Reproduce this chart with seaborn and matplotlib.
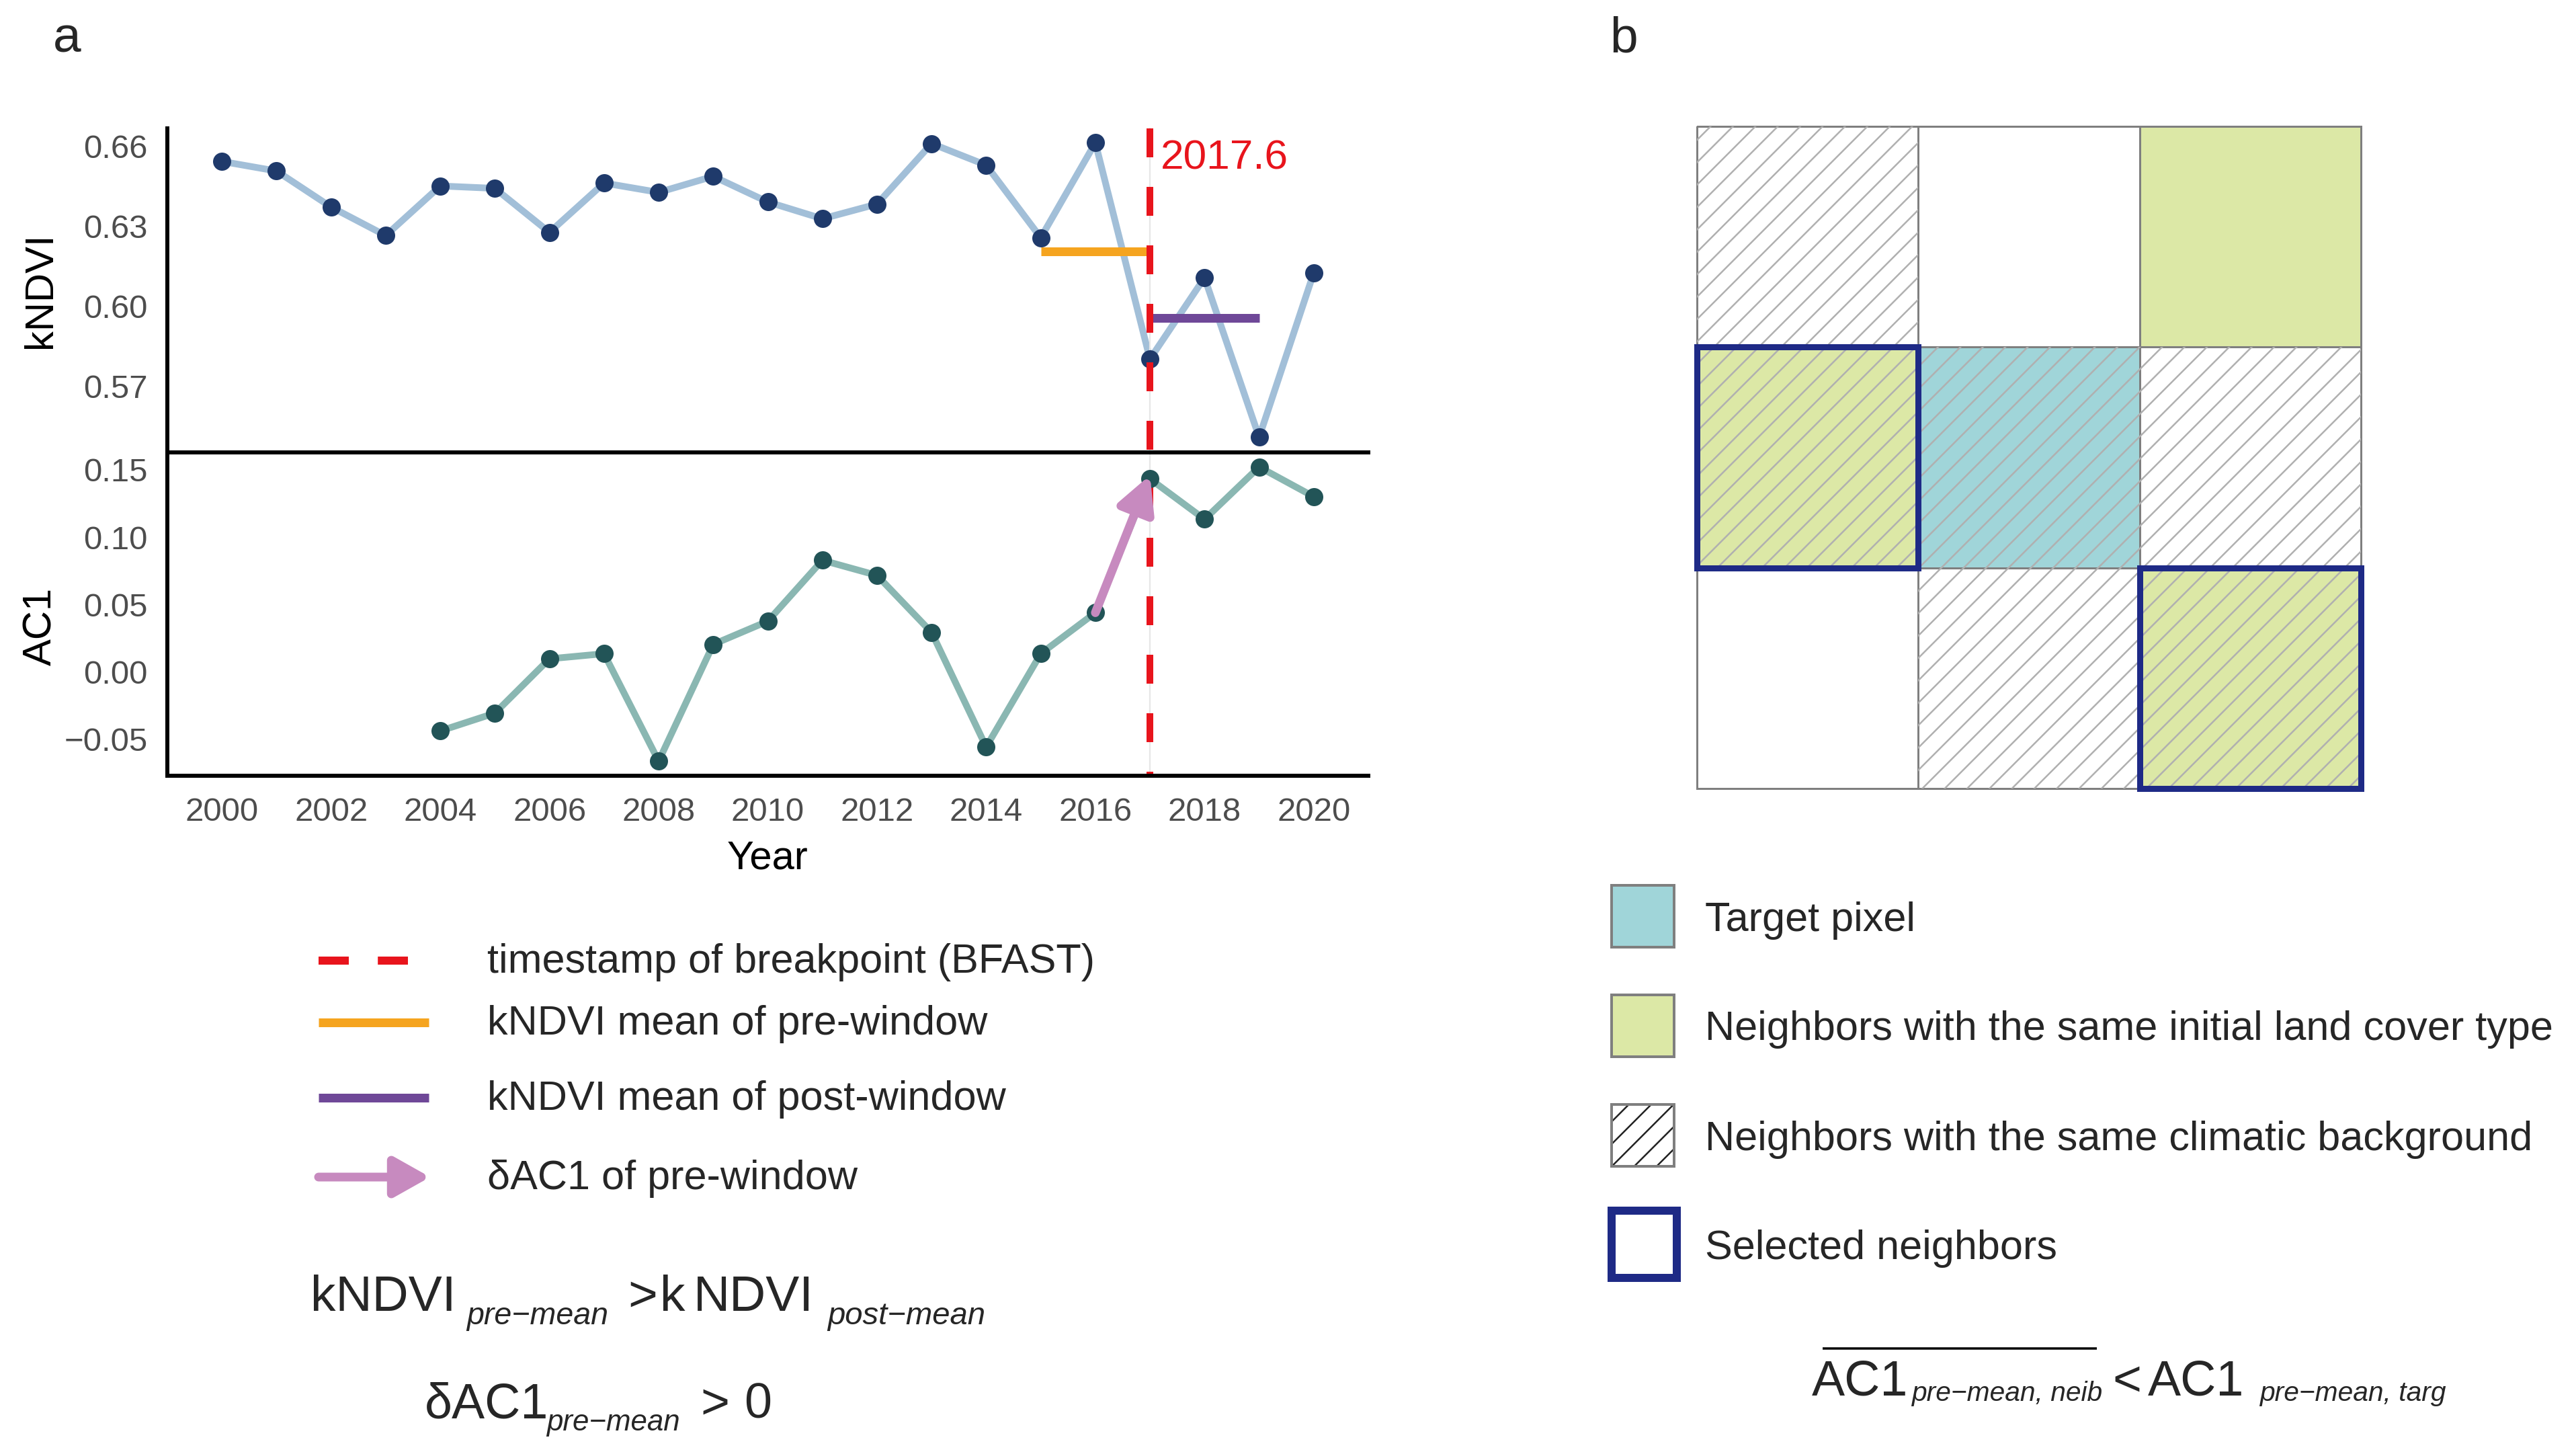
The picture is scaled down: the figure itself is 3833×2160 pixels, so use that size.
import numpy as np
import matplotlib
matplotlib.use("Agg")
import matplotlib.pyplot as plt
from matplotlib.colors import ListedColormap
from matplotlib.patches import Rectangle
import seaborn as sns
import pandas as pd

# ---- data ----
YEARS = list(range(2000, 2021))
KNDVI = [0.6544, 0.6508, 0.6373, 0.6266, 0.6452, 0.6443, 0.6278, 0.6463,
         0.6428, 0.6488, 0.6392, 0.6329, 0.6384, 0.6611, 0.6530, 0.6258,
         0.6614, 0.5803, 0.6108, 0.5510, 0.6126]
AC1_YEARS = list(range(2004, 2021))
AC1 = [-0.0437, -0.0305, 0.0098, 0.0136, -0.0661, 0.0205, 0.0377, 0.0829,
       0.0717, 0.0294, -0.0556, 0.0136, 0.0440, 0.1433, 0.1133, 0.1521, 0.1301]
BREAK_YEAR = 2017
BREAK_LABEL = "2017.6"
PRE_WINDOW = [2015, 2017]
PRE_MEAN = [0.6207, 0.6207]
POST_WINDOW = [2017, 2019]
POST_MEAN = [0.5956, 0.5956]
DELTA_X = [2016, 2017]
DELTA_Y = [0.0440, 0.146]

KNDVI_TICKS = [0.57, 0.60, 0.63, 0.66]
AC1_TICKS = [-0.05, 0.00, 0.05, 0.10, 0.15]
YEAR_TICKS = list(range(2000, 2021, 2))

# panel b: 3x3 neighbourhood (0 = none, 1 = same land cover, 2 = target)
CELL_FILL = [[0, 0, 1],
             [1, 2, 0],
             [0, 0, 1]]
CELL_HATCH = [[1, 0, 0],
              [1, 1, 1],
              [0, 1, 1]]
CELL_SELECTED = [[0, 0, 0],
                 [1, 0, 0],
                 [0, 0, 1]]

LEGEND_A = ["timestamp of breakpoint (BFAST)", "kNDVI mean of pre-window",
            "kNDVI mean of post-window", "\u03b4AC1 of pre-window"]
LEGEND_B = ["Target pixel", "Neighbors with the same initial land cover type",
            "Neighbors with the same climatic background", "Selected neighbors"]

# ---- style ----
W, H, DPI = 3833, 2160, 200
KNDVI_LINE = "#A2BFD8"
KNDVI_PT = "#1F3A6B"
AC1_LINE = "#8AB7B2"
AC1_PT = "#225457"
RED = "#E8141C"
ORANGE = "#F5A41F"
PURPLE = "#6F4898"
PINK = "#C78ABF"
GREEN = "#DCE8A6"
CYAN = "#A0D5D9"
NAVY = "#1E2A86"
GRID_GREY = "#7F7F7F"
TICK_GREY = "#4D4D4D"
MINUS = "\u2212"


def px(v):
    """pixels -> points"""
    return v * 72 / DPI


sns.set_theme(style="white")
plt.rcParams["font.family"] = ["Liberation Sans", "DejaVu Sans"]
plt.rcParams["hatch.linewidth"] = 0.9
plt.rcParams["axes.unicode_minus"] = True

fig = plt.figure(figsize=(W / DPI, H / DPI), dpi=DPI)

X0, X1 = 249, 2036
Y_TOP, Y_MID, Y_BOT = 191, 672.8, 1154.3
ax1 = fig.add_axes([X0 / W, 1 - Y_MID / H, (X1 - X0) / W, (Y_MID - Y_TOP) / H])
ax2 = fig.add_axes([X0 / W, 1 - Y_BOT / H, (X1 - X0) / W, (Y_BOT - Y_MID) / H])

kdf = pd.DataFrame({"year": YEARS, "kndvi": KNDVI})
adf = pd.DataFrame({"year": AC1_YEARS, "ac1": AC1})

sns.lineplot(data=kdf, x="year", y="kndvi", color=KNDVI_LINE, lw=px(10), ax=ax1)
sns.scatterplot(data=kdf, x="year", y="kndvi", color=KNDVI_PT, s=px(27) ** 2,
                linewidth=0, zorder=4, ax=ax1)
sns.lineplot(x=PRE_WINDOW, y=PRE_MEAN, color=ORANGE, lw=px(13),
             solid_capstyle="butt", ax=ax1)
sns.lineplot(x=POST_WINDOW, y=POST_MEAN, color=PURPLE, lw=px(13),
             solid_capstyle="butt", ax=ax1)

sns.lineplot(data=adf, x="year", y="ac1", color=AC1_LINE, lw=px(10), ax=ax2)
sns.scatterplot(data=adf, x="year", y="ac1", color=AC1_PT, s=px(27) ** 2,
                linewidth=0, zorder=4, ax=ax2)
ax2.annotate("", xy=(DELTA_X[1], DELTA_Y[1]), xytext=(DELTA_X[0], DELTA_Y[0]),
             arrowprops=dict(arrowstyle="-|>,head_length=0.8,head_width=0.42",
                             mutation_scale=20, lw=px(13), color=PINK,
                             shrinkA=0, shrinkB=0),
             zorder=5)

for ax in (ax1, ax2):
    ax.set_xlim(1999, 2021)
    ax.set_facecolor("none")
    ax.tick_params(axis="both", length=0, labelsize=17.7, labelcolor=TICK_GREY)
    ax.tick_params(axis="y", pad=px(29))
    ax.set_xlabel("")
    ax.set_ylabel("")
    for s in ax.spines.values():
        s.set_color("black")
        s.set_linewidth(px(6))
    ax.spines["right"].set_visible(False)

ax1.set_ylim(0.54535, 0.66678)
ax2.set_ylim(-0.0771, 0.1630)
ax1.spines["top"].set_visible(False)
ax1.spines["bottom"].set_visible(False)
ax1.tick_params(axis="x", labelbottom=False)
ax1.set_yticks(KNDVI_TICKS)
ax1.set_yticklabels([f"{v:.2f}" for v in KNDVI_TICKS])
ax2.set_yticks(AC1_TICKS)
ax2.set_yticklabels([f"{v:.2f}".replace("-", MINUS) for v in AC1_TICKS])
ax2.set_xticks(YEAR_TICKS)
ax2.set_xticklabels([str(y) for y in YEAR_TICKS])
ax2.tick_params(axis="x", pad=px(32))

ax1.set_ylabel("kNDVI", fontsize=21.5, color="black")
ax1.yaxis.set_label_coords(-0.09, 0.5)
ax2.set_ylabel("AC1", fontsize=21.5, color="black")
ax2.yaxis.set_label_coords(-0.09, 0.462)
ax2.set_xlabel("Year", fontsize=21.5, color="black", va="top")
ax2.xaxis.set_label_coords(0.5, -0.197)

# breakpoint line running through both panels
frac_bottom = -(Y_BOT - Y_MID) / (Y_MID - Y_TOP)
ax1.plot([BREAK_YEAR, BREAK_YEAR], [1, frac_bottom], color="#E6E6E6", lw=0.8,
         transform=ax1.get_xaxis_transform(), clip_on=False, zorder=2)
ax1.plot([BREAK_YEAR, BREAK_YEAR], [1, frac_bottom], color=RED, lw=px(10),
         linestyle=(0, (4.3, 4.4)), transform=ax1.get_xaxis_transform(),
         clip_on=False, zorder=6)
ax1.text(BREAK_YEAR + 0.19, 0.6554, BREAK_LABEL, color=RED, fontsize=22.4,
         ha="left", va="center")

# ---- panel b grid ----
axb = fig.add_axes([2525 / W, 1 - 1173 / H, 988 / W, 985 / H])
sns.heatmap(np.array(CELL_FILL), cmap=ListedColormap(["white", GREEN, CYAN]),
            vmin=-0.5, vmax=2.5, cbar=False, linewidths=px(2.5),
            linecolor=GRID_GREY, xticklabels=False, yticklabels=False, ax=axb)
axb.collections[0].set_clip_on(False)
for r, row in enumerate(CELL_HATCH):
    for c, h in enumerate(row):
        if h:
            axb.add_patch(Rectangle((c, r), 1, 1, fill=False, hatch="//",
                                    edgecolor="#B0B0B0", linewidth=0, zorder=2))
for r, row in enumerate(CELL_SELECTED):
    for c, sel in enumerate(row):
        if sel:
            axb.add_patch(Rectangle((c, r), 1, 1, fill=False, edgecolor=NAVY,
                                    linewidth=px(9), zorder=5, clip_on=False,
                                    joinstyle="miter"))

# ---- overlay for legends, formulas, panel letters (pixel coordinates) ----
ov = fig.add_axes([0, 0, 1, 1], zorder=10)
ov.set_xlim(0, W)
ov.set_ylim(H, 0)
ov.axis("off")

ov.text(79, 77, "a", fontsize=27, ha="left", va="baseline")
ov.text(2395, 77, "b", fontsize=27, ha="left", va="baseline")

# legend a
leg_y = [1429, 1521, 1633, 1751]
ov.plot([474, 607], [leg_y[0]] * 2, color=RED, lw=px(12),
        linestyle=(0, (3.75, 3.6)))
ov.plot([474, 638], [leg_y[1]] * 2, color=ORANGE, lw=px(13), solid_capstyle="butt")
ov.plot([474, 638], [leg_y[2]] * 2, color=PURPLE, lw=px(13), solid_capstyle="butt")
ov.annotate("", xy=(640, leg_y[3]), xytext=(474, leg_y[3]),
            arrowprops=dict(arrowstyle="-|>,head_length=0.8,head_width=0.45",
                            mutation_scale=20, lw=px(13), color=PINK,
                            shrinkA=0, shrinkB=0))
for y, label in zip(leg_y, LEGEND_A):
    ov.text(725, y + 2, label, fontsize=22, ha="left", va="center")


def formula(pieces):
    """pieces: (text, x_left, baseline, size, italic)"""
    for txt, x, y, size, it in pieces:
        ov.text(x, y, txt, fontsize=size, ha="left", va="baseline",
                style="italic" if it else "normal")


SUB1 = f"pre{MINUS}mean"
SUB2 = f"post{MINUS}mean"
formula([
    ("kNDVI", 462, 1950, 27, False),
    (SUB1, 694, 1970, 16.8, True),
    (">", 934, 1950, 27, False),
    ("k", 982, 1950, 27, False),
    ("NDVI", 1032, 1950, 27, False),
    (SUB2, 1231, 1970, 17, True),
])
formula([
    ("\u03b4AC1", 632, 2110, 26.5, False),
    (SUB1, 813, 2128, 15.8, True),
    (">", 1042, 2110, 26.5, False),
    ("0", 1107, 2110, 26.5, False),
])

# legend b
sq_top = [1317, 1480, 1643, 1805]
for i, (y, label) in enumerate(zip(sq_top, LEGEND_B)):
    if i == 0:
        ov.add_patch(Rectangle((2398, y), 93, 92, facecolor=CYAN,
                               edgecolor=GRID_GREY, lw=px(4)))
    elif i == 1:
        ov.add_patch(Rectangle((2398, y), 93, 92, facecolor=GREEN,
                               edgecolor=GRID_GREY, lw=px(4)))
    elif i == 2:
        ov.add_patch(Rectangle((2398, y), 93, 92, fill=False, hatch="//",
                               edgecolor="#222222", lw=0))
        ov.add_patch(Rectangle((2398, y), 93, 92, fill=False,
                               edgecolor=GRID_GREY, lw=px(4)))
    else:
        ov.add_patch(Rectangle((2398, y - 4), 97, 100, fill=False,
                               edgecolor=NAVY, lw=px(12), joinstyle="miter"))
    ov.text(2537, y + 52, label, fontsize=22, ha="left", va="center")

SUB3 = f"pre{MINUS}mean, neib"
SUB4 = f"pre{MINUS}mean, targ"
formula([
    ("AC1", 2696, 2076, 26.5, False),
    (SUB3, 2844, 2084, 14.7, True),
    ("<", 3143, 2076, 26.5, False),
    ("AC1", 3196, 2076, 26.5, False),
    (SUB4, 3362, 2084, 14.7, True),
])
ov.plot([2712, 3120], [2006, 2006], color="black", lw=px(3.5),
        solid_capstyle="butt")

fig.savefig("out.png", dpi=DPI)
plt.close(fig)
